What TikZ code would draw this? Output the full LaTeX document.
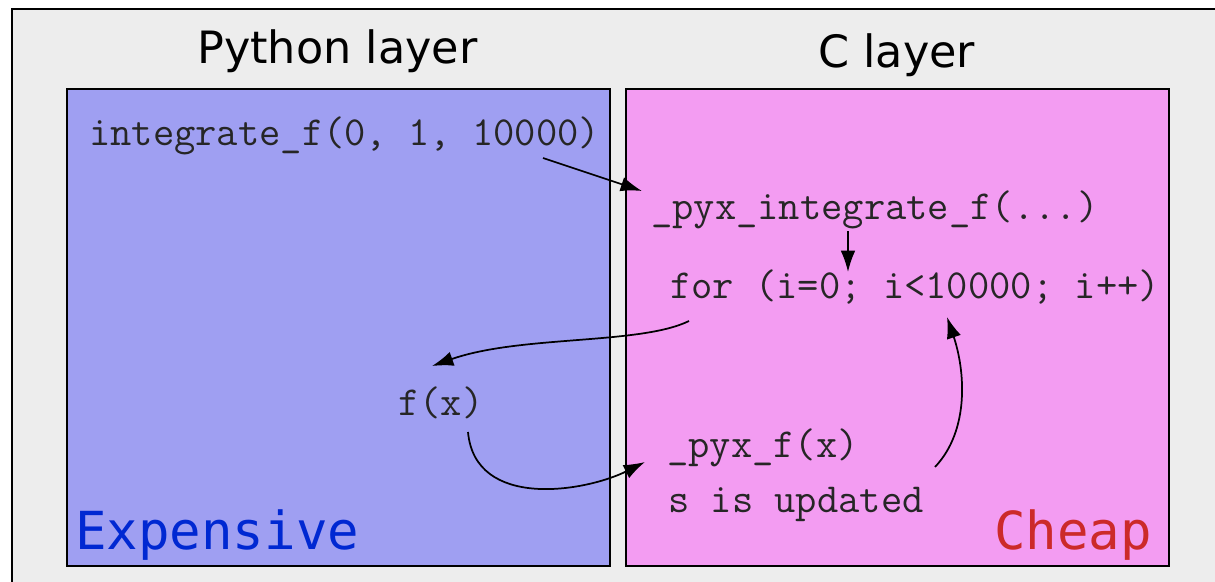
\documentclass[tikz,border=0pt]{standalone}
\usepackage{fontspec}
\usepackage{tikz}
\usetikzlibrary{calc,arrows.meta}
\newfontfamily\headfont{DejaVu Sans}
\newfontfamily\costfont{DejaVu Sans Mono}
\definecolor{bggray}{RGB}{237,237,237}
\definecolor{pyblue}{RGB}{159,159,242}
\definecolor{cpink}{RGB}{243,156,242}
\definecolor{expblue}{RGB}{0,40,210}
\definecolor{cheapred}{RGB}{204,42,42}
\begin{document}
\begin{tikzpicture}[x=0.75pt,y=0.75pt,yscale=-1,xscale=1,
    code/.style={anchor=base west,inner sep=0pt,text=black!85,font=\ttfamily\fontsize{31pt}{35pt}\selectfont},
    head/.style={anchor=base west,inner sep=0pt,font=\headfont\fontsize{33.4pt}{40pt}\selectfont},
    cost/.style={anchor=base west,inner sep=0pt,font=\costfont\fontsize{39.3pt}{44pt}\selectfont},
    flow/.style={line width=1.3pt,-{Latex[length=16pt,width=11pt]}}]
        \useasboundingbox (0,0) rectangle (1215,582);
        \clip (0,0) rectangle (1215,582);
        \draw [fill=bggray,line width=1.5pt] (11.5,8.5) rectangle (1240,600);
        \draw [fill=pyblue,line width=1.5pt] (67,89) rectangle (610,566);
        \draw [fill=cpink,line width=1.5pt] (626,89) rectangle (1169,566);
        \draw (197,63) node [head] (pyhead) {Python layer};
        \draw (818,67) node [head] (chead) {C layer};
        \draw (89,145) node [code] (intf) {integrate\_f(0, 1, 10000)};
        \draw (651,219) node [code] (pyint) {\_pyx\_integrate\_f(...)};
        \draw (670,298) node [code] (forl) {for (i=0; i<10000; i++)};
        \draw (398,415) node [code] (fx) {f(x)};
        \draw (667,457) node [code] (pyf) {\_pyx\_f(x)};
        \draw (668,512) node [code] (supd) {s is updated};
        \draw (75,549) node [cost,text=expblue] (exp) {Expensive};
        \draw (994,549) node [cost,text=cheapred] (cheap) {Cheap};
        \draw [flow] ($(intf.base west)+(454,13)$) -- ($(pyint.base west)+(-9,-28)$);
        \draw [flow] ($(pyint.base west)+(197,12)$) -- ($(forl.base west)+(178,-26)$);
        \draw [flow] ($(forl.base west)+(19,23)$) .. controls +(-49,24) and +(88,-31) .. ($(fx.base west)+(34,-49)$);
        \draw [flow] ($(fx.base west)+(70,17)$) .. controls +(7,78) and +(-60,30) .. ($(pyf.base west)+(-22,5)$);
        \draw [flow] ($(supd.base west)+(267,-45)$) .. controls +(35,-37) and +(18,53) .. ($(forl.base west)+(277,19)$);
    \end{tikzpicture}
\end{document}
